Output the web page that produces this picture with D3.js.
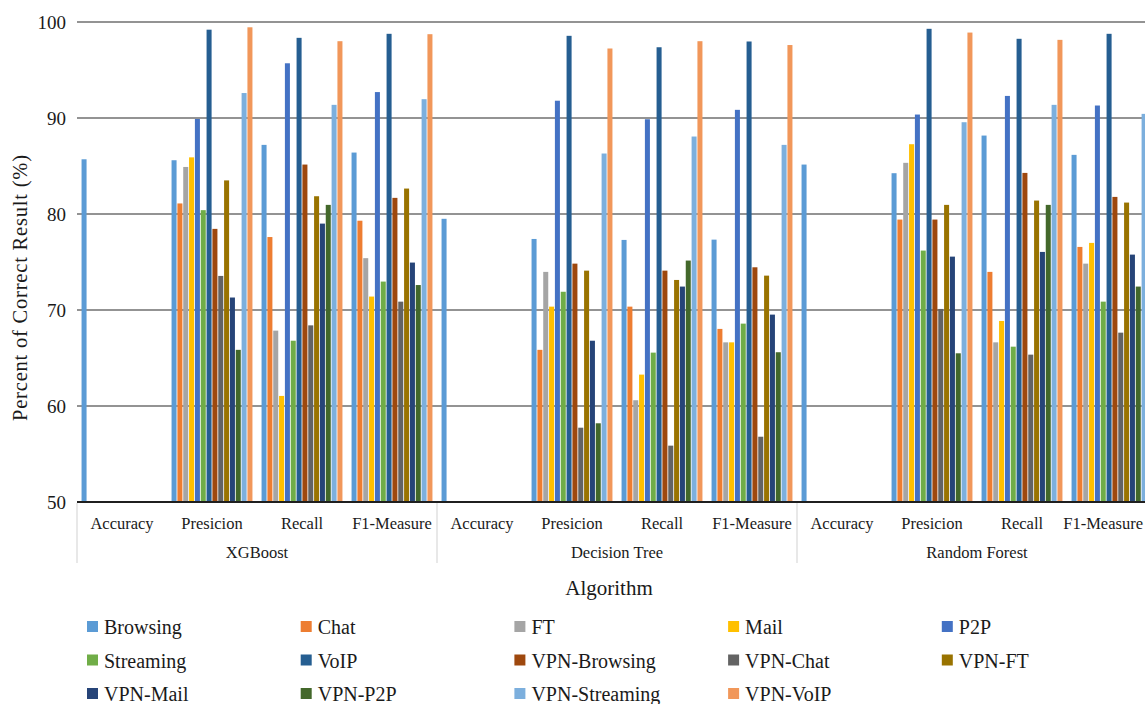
<!DOCTYPE html>
<html>
<head>
<meta charset="utf-8">
<script src="https://cdn.jsdelivr.net/npm/d3@7"></script>
<style>
  html, body { margin: 0; padding: 0; background: #fff; }
  svg { display: block; }
  text { font-family: "Liberation Serif", "Times New Roman", serif; fill: #1a1a1a; }
</style>
</head>
<body>
<svg id="chart" width="1145" height="704"></svg>
<script>
// ---- Data ----
const algorithms = ["XGBoost", "Decision Tree", "Random Forest"];
const metrics = ["Accuracy", "Presicion", "Recall", "F1-Measure"];
const classes = ["Browsing", "Chat", "FT", "Mail", "P2P", "Streaming", "VoIP",
  "VPN-Browsing", "VPN-Chat", "VPN-FT", "VPN-Mail", "VPN-P2P", "VPN-Streaming", "VPN-VoIP"];
const colors = ["#5B9BD5", "#ED7D31", "#A5A5A5", "#FFC000", "#4472C4", "#70AD47", "#255E91",
  "#9E480E", "#636363", "#997300", "#264478", "#43682B", "#7CAFDD", "#F1975A"];
const yTicks = [50, 60, 70, 80, 90, 100];

// accuracy: one value per algorithm (shown in the Browsing slot)
const accuracy = [85.7, 79.5, 85.15];
// per-class values, order of `classes`
const xgbPrecision = [85.6, 81.1, 84.9, 85.9, 89.9, 80.4, 99.2, 78.45, 73.55, 83.5, 71.3, 65.85, 92.6, 99.45];
const xgbRecall    = [87.2, 77.6, 67.85, 61.05, 95.7, 66.8, 98.35, 85.15, 68.4, 81.85, 79.0, 80.95, 91.37, 98.0];
const xgbF1        = [86.4, 79.3, 75.4, 71.4, 92.7, 72.96, 98.77, 81.68, 70.87, 82.65, 74.94, 72.6, 91.96, 98.73];
const dtPrecision  = [77.4, 65.85, 73.97, 70.35, 91.8, 71.9, 98.56, 74.83, 57.74, 74.1, 66.8, 58.2, 86.3, 97.24];
const dtRecall     = [77.3, 70.35, 60.6, 63.27, 89.87, 65.56, 97.37, 74.1, 55.87, 73.13, 72.44, 75.15, 88.07, 98.0];
const dtF1         = [77.33, 68.03, 66.63, 66.63, 90.85, 68.58, 97.97, 74.45, 56.8, 73.58, 69.52, 65.6, 87.2, 97.6];
const rfPrecision  = [84.25, 79.42, 85.33, 87.27, 90.36, 76.19, 99.29, 79.42, 70.11, 80.95, 75.56, 65.49, 89.56, 98.9];
const rfRecall     = [88.17, 73.97, 66.63, 68.86, 92.3, 66.18, 98.25, 84.28, 65.35, 81.4, 76.05, 80.95, 91.37, 98.14];
const rfF1         = [86.16, 76.57, 74.83, 76.99, 91.3, 70.87, 98.77, 81.78, 67.64, 81.19, 75.77, 72.44, 90.43, 98.5];

const perAlgo = [
  [xgbPrecision, xgbRecall, xgbF1],
  [dtPrecision, dtRecall, dtF1],
  [rfPrecision, rfRecall, rfF1]
];

// build rows: one per (algorithm, metric)
const groups = [];
algorithms.forEach((alg, ai) => {
  metrics.forEach((m, mi) => {
    let vals;
    if (mi === 0) vals = classes.map((c, ci) => ci === 0 ? accuracy[ai] : null);
    else vals = perAlgo[ai][mi - 1];
    groups.push({ key: alg + "|" + m, alg, metric: m, vals });
  });
});

// ---- Layout ----
const W = 1145;
const svg = d3.select("#chart");
const plotLeft = 77, plotTop = 22, plotBottom = 502;
const groupW = 90;
const plotRight = plotLeft + groupW * groups.length; // extends past the viewport (clipped like the original)

const x0 = d3.scaleBand().domain(groups.map(g => g.key)).range([plotLeft, plotRight]).padding(0);
const x1 = d3.scaleBand().domain(classes).range([0, x0.bandwidth()]).paddingInner(0.14).paddingOuter(0.78);
const y = d3.scaleLinear().domain([50, 100]).range([plotBottom, plotTop]);
const color = d3.scaleOrdinal().domain(classes).range(colors);

// gridlines
svg.append("g")
  .selectAll("line")
  .data(yTicks.filter(t => t > 50))
  .join("line")
  .attr("x1", plotLeft).attr("x2", plotRight)
  .attr("y1", d => y(d)).attr("y2", d => y(d))
  .attr("stroke", "#6f6f6f").attr("stroke-width", 1.6);

// y axis labels
const yAxis = d3.axisLeft(y).tickValues(yTicks).tickSize(0).tickPadding(11);
const yg = svg.append("g").attr("transform", `translate(${plotLeft},0)`).call(yAxis);
yg.select(".domain").remove();
yg.selectAll("text").attr("font-size", 19).attr("font-family", "Liberation Serif").attr("fill", "#1a1a1a");

// bars
const gg = svg.append("g").selectAll("g")
  .data(groups).join("g")
  .attr("transform", d => `translate(${x0(d.key)},0)`);
gg.selectAll("rect")
  .data(d => d.vals.map((v, i) => ({ cls: classes[i], v })).filter(o => o.v != null))
  .join("rect")
  .attr("x", d => x1(d.cls))
  .attr("width", x1.bandwidth())
  .attr("y", d => y(d.v))
  .attr("height", d => y(50) - y(d.v))
  .attr("fill", d => color(d.cls));

// baseline
svg.append("line")
  .attr("x1", plotLeft).attr("x2", plotRight)
  .attr("y1", y(50)).attr("y2", y(50))
  .attr("stroke", "#1f1f1f").attr("stroke-width", 2.2);

// category dividers (per algorithm)
const algBounds = algorithms.map((a, i) => plotLeft + i * groupW * metrics.length);
algBounds.push(plotRight);
svg.append("g").selectAll("line")
  .data(algBounds).join("line")
  .attr("x1", d => d).attr("x2", d => d)
  .attr("y1", plotBottom + 1).attr("y2", 563)
  .attr("stroke", "#d9d9d9").attr("stroke-width", 1.2);

// metric labels (kept inside the visible area, as in the original)
svg.append("g").selectAll("text")
  .data(groups).join("text")
  .attr("y", 529)
  .attr("text-anchor", "middle")
  .attr("font-size", 16.5)
  .text(d => d.metric)
  .each(function (d) {
    const w = this.getComputedTextLength();
    let cx = x0(d.key) + x0.bandwidth() / 2;
    if (cx + w / 2 > W - 2) cx = W - 2 - w / 2;
    d3.select(this).attr("x", cx);
  });

// algorithm labels
svg.append("g").selectAll("text")
  .data(algorithms).join("text")
  .attr("x", (d, i) => plotLeft + (i + 0.5) * groupW * metrics.length)
  .attr("y", 558)
  .attr("text-anchor", "middle")
  .attr("font-size", 16.5)
  .text(d => d);

// axis titles
svg.append("text")
  .attr("x", 609).attr("y", 595)
  .attr("text-anchor", "middle")
  .attr("font-size", 21)
  .text("Algorithm");

svg.append("text")
  .attr("transform", "translate(27,288) rotate(-90)")
  .attr("text-anchor", "middle")
  .attr("font-size", 20.5)
  .attr("textLength", 266)
  .attr("lengthAdjust", "spacing")
  .text("Percent of Correct Result (%)");

// legend
const legCols = 5, legX0 = 87, legDX = 213.7, legY0 = 621, legDY = 33.5;
const leg = svg.append("g").selectAll("g")
  .data(classes).join("g")
  .attr("transform", (d, i) => `translate(${legX0 + (i % legCols) * legDX},${legY0 + Math.floor(i / legCols) * legDY})`);
leg.append("rect").attr("width", 11).attr("height", 11).attr("fill", d => color(d));
leg.append("text").attr("x", 17).attr("y", 13).attr("font-size", 20).text(d => d);
</script>
</body>
</html>
